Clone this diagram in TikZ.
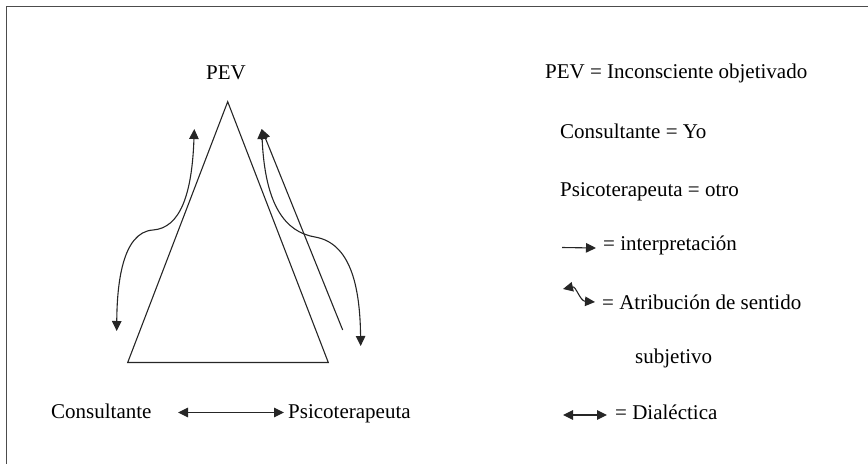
\documentclass[tikz,border=0pt]{standalone}
\usepackage{fontspec}
\setmainfont{Liberation Serif}
\usetikzlibrary{arrows.meta}
\begin{document}
\begin{tikzpicture}[x=1pt,y=-1pt,
  txt/.style={inner sep=0pt,anchor=base west,font=\fontsize{21}{25}\selectfont},
  ln/.style={line width=1.1pt,black!85},
  tip/.style={-{Triangle[length=10pt,width=9.5pt]}},
  dtip/.style={{Triangle[length=10pt,width=9.5pt]}-{Triangle[length=10pt,width=9.5pt]}}]
\useasboundingbox (0,0) rectangle (868,464);
% frame (top and left only visible)
\draw[line width=1.6pt,black!70] (868,6.5) -- (6.5,6.5) -- (6.5,464);
% triangle
\coordinate (apex) at (227.7,101.7);
\coordinate (bl) at (127.7,362.5);
\coordinate (br) at (328.3,362.5);
\draw[ln,line join=miter] (apex) -- (bl) -- (br) -- cycle;
\node[txt,anchor=base] (pev) at (226,79) {PEV};
% left curved double arrow
\coordinate (la) at (194.3,129);
\coordinate (lm) at (153,230);
\coordinate (lb) at (116.7,331);
\draw[ln,dtip] (la) .. controls (192,195) and (180,228) .. (lm) .. controls (122,232) and (117,285) .. (lb);
% right curved double arrow
\coordinate (ra) at (261.7,129);
\coordinate (rm) at (315,237);
\coordinate (rb) at (360.7,346);
\draw[ln,dtip] (ra) .. controls (265,205) and (285,232) .. (rm) .. controls (350,243) and (360,285) .. (rb);
% straight interpretation arrow
\coordinate (rs) at (342.7,330);
\draw[ln,tip] (rs) -- (ra);
% bottom
\node[txt] (cons) at (51,418) {Consultante};
\node[txt] (psi) at (288,418) {Psicoterapeuta};
\coordinate (d1) at (178,412.5);
\coordinate (d2) at (284,412.5);
\draw[ln,dtip] (d1) -- (d2);
% legend
\node[txt] (l1) at (545,78) {PEV = Inconsciente objetivado};
\node[txt] (l2) at (560,138) {Consultante = Yo};
\node[txt] (l3) at (560,196.5) {Psicoterapeuta = otro};
\node[txt] (l4) at (603,250) {= interpretación};
\coordinate (i1) at (562,247.5);
\coordinate (i2) at (596,248);
\draw[ln,tip] (i1) -- (i2);
\node[txt] (l5) at (602,309) {= Atribución de sentido};
\coordinate (w1) at (563,289);
\coordinate (w2) at (595,302);
\draw[ln,dtip] (w1) .. controls (576,286) and (580,301) .. (w2);
\node[txt] (l6) at (635,363) {subjetivo};
\node[txt] (l7) at (615,419) {= Dialéctica};
\coordinate (e1) at (563,415);
\coordinate (e2) at (607,415);
\draw[ln,dtip] (e1) -- (e2);
\end{tikzpicture}
\end{document}
